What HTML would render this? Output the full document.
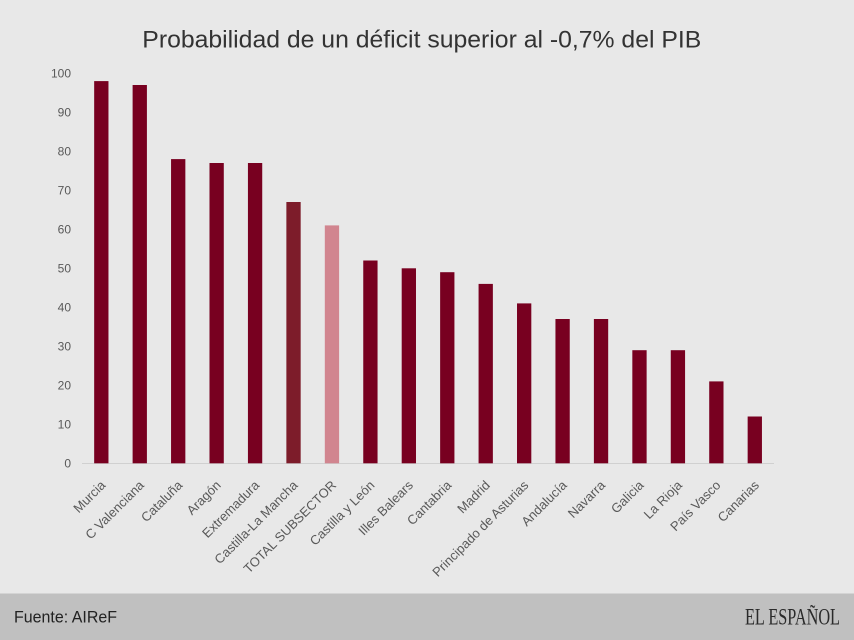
<!DOCTYPE html>
<html><head><meta charset="utf-8"><style>
html,body{margin:0;padding:0;background:#e8e8e8;}
svg{display:block;}
</style></head><body>
<svg width="854" height="640" viewBox="0 0 854 640" xmlns="http://www.w3.org/2000/svg">
<rect x="0" y="0" width="854" height="640" fill="#e8e8e8"/>
<text x="142.3" y="47.5" font-family="Liberation Sans, Arial, sans-serif" font-size="24" fill="#333" textLength="559" lengthAdjust="spacingAndGlyphs">Probabilidad de un déficit superior al -0,7% del PIB</text>
<g font-family="Liberation Sans, Arial, sans-serif" font-size="12" fill="#595959" text-anchor="end">
<text x="71" y="467.5">0</text>
<text x="71" y="428.5">10</text>
<text x="71" y="389.5">20</text>
<text x="71" y="350.5">30</text>
<text x="71" y="311.5">40</text>
<text x="71" y="272.5">50</text>
<text x="71" y="233.5">60</text>
<text x="71" y="194.5">70</text>
<text x="71" y="155.5">80</text>
<text x="71" y="116.5">90</text>
<text x="71" y="77.5">100</text>
</g>
<line x1="82" y1="463.5" x2="774" y2="463.5" stroke="#d0d0d0" stroke-width="1"/>
<g fill="#780020">
<rect x="94.17" y="81.1" width="14.3" height="382.2"/>
<rect x="132.61" y="85.0" width="14.3" height="378.3"/>
<rect x="171.05" y="159.1" width="14.3" height="304.2"/>
<rect x="209.49" y="163.0" width="14.3" height="300.3"/>
<rect x="247.93" y="163.0" width="14.3" height="300.3"/>
<rect x="286.37" y="202.0" width="14.3" height="261.3" fill="#7d1c2a"/>
<rect x="324.81" y="225.4" width="14.3" height="237.9" fill="#d1858f"/>
<rect x="363.25" y="260.5" width="14.3" height="202.8"/>
<rect x="401.69" y="268.3" width="14.3" height="195.0"/>
<rect x="440.13" y="272.2" width="14.3" height="191.1"/>
<rect x="478.57" y="283.9" width="14.3" height="179.4"/>
<rect x="517.01" y="303.4" width="14.3" height="159.9"/>
<rect x="555.45" y="319.0" width="14.3" height="144.3"/>
<rect x="593.89" y="319.0" width="14.3" height="144.3"/>
<rect x="632.33" y="350.2" width="14.3" height="113.1"/>
<rect x="670.77" y="350.2" width="14.3" height="113.1"/>
<rect x="709.21" y="381.4" width="14.3" height="81.9"/>
<rect x="747.65" y="416.5" width="14.3" height="46.8"/>
</g>
<g font-family="Liberation Sans, Arial, sans-serif" font-size="13" fill="#595959" text-anchor="end">
<text transform="translate(106.3,486) rotate(-45)">Murcia</text>
<text transform="translate(144.8,486) rotate(-45)">C Valenciana</text>
<text transform="translate(183.2,486) rotate(-45)">Cataluña</text>
<text transform="translate(221.6,486) rotate(-45)">Aragón</text>
<text transform="translate(260.1,486) rotate(-45)">Extremadura</text>
<text transform="translate(298.5,486) rotate(-45)">Castilla-La Mancha</text>
<text transform="translate(337.0,486) rotate(-45)">TOTAL SUBSECTOR</text>
<text transform="translate(375.4,486) rotate(-45)">Castilla y León</text>
<text transform="translate(413.8,486) rotate(-45)">Illes Balears</text>
<text transform="translate(452.3,486) rotate(-45)">Cantabria</text>
<text transform="translate(490.7,486) rotate(-45)">Madrid</text>
<text transform="translate(529.2,486) rotate(-45)">Principado de Asturias</text>
<text transform="translate(567.6,486) rotate(-45)">Andalucía</text>
<text transform="translate(606.0,486) rotate(-45)">Navarra</text>
<text transform="translate(644.5,486) rotate(-45)">Galicia</text>
<text transform="translate(682.9,486) rotate(-45)">La Rioja</text>
<text transform="translate(721.4,486) rotate(-45)">País Vasco</text>
<text transform="translate(759.8,486) rotate(-45)">Canarias</text>
</g>
<rect x="0" y="593.5" width="854" height="46.5" fill="#c0c0c0"/>
<text x="14" y="622.5" font-family="Liberation Sans, Arial, sans-serif" font-size="17" fill="#222" textLength="103" lengthAdjust="spacingAndGlyphs">Fuente: AIReF</text>
<text x="745" y="624.3" font-family="Liberation Serif, Times New Roman, serif" font-size="23" fill="#2a2a2a" textLength="95" lengthAdjust="spacingAndGlyphs">EL ESPAÑOL</text>
</svg>
</body></html>
